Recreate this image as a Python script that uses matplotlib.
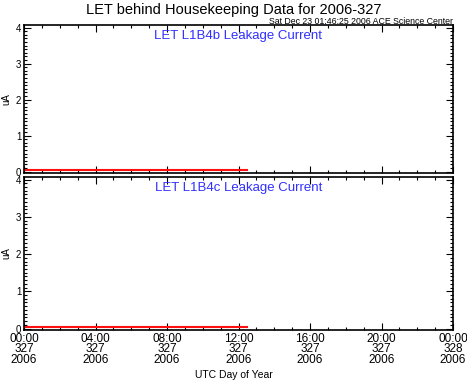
import matplotlib
matplotlib.use("Agg")
import matplotlib.pyplot as plt
from matplotlib.ticker import MultipleLocator

# hours since 00:00 of day 327
hours = [0.0, 2.0, 4.0, 6.0, 8.0, 10.0, 12.0, 12.45]
l1b4b = [0.05, 0.05, 0.05, 0.05, 0.05, 0.05, 0.05, 0.05]
l1b4c = [0.05, 0.05, 0.05, 0.05, 0.05, 0.05, 0.05, 0.05]

tick_hours = [0, 4, 8, 12, 16, 20, 24]
tick_labels = ["00:00\n327\n2006", "04:00\n327\n2006", "08:00\n327\n2006",
               "12:00\n327\n2006", "16:00\n327\n2006", "20:00\n327\n2006",
               "00:00\n328\n2006"]

panels = ["LET L1B4b Leakage Current", "LET L1B4c Leakage Current"]

plt.rcParams['font.family'] = ['Liberation Sans', 'DejaVu Sans']

fig = plt.figure(figsize=(4.67, 3.82), dpi=100)
left, width = 24 / 467, 429 / 467
ax1 = fig.add_axes([left, 1 - 173 / 382, width, 148 / 382])
ax2 = fig.add_axes([left, 1 - 330 / 382, width, 153 / 382])

for ax, vals, name in zip([ax1, ax2], [l1b4b, l1b4c], panels):
    ax.plot(hours, vals, color='#ff1010', lw=1.5)
    ax.set_xlim(0, 24)
    ax.set_ylim(-0.04, 4.07)
    ax.set_yticks([0, 1, 2, 3, 4])
    ax.yaxis.set_minor_locator(MultipleLocator(0.1))
    ax.set_xticks(tick_hours)
    ax.xaxis.set_minor_locator(MultipleLocator(1))
    ax.tick_params(which='both', direction='in', top=True, right=True,
                   color='black', width=0.8, labelsize=7, pad=2)
    ax.tick_params(which='major', length=5)
    ax.tick_params(which='minor', length=2.5)
    for s in ax.spines.values():
        s.set_linewidth(1.2)
    ax.set_ylabel("uA", fontsize=7, labelpad=3)
    ax.text(0.5, 0.925, name, transform=ax.transAxes, ha='center', va='center',
            color='#3030ff', fontsize=9.5)

ax1.set_xticklabels([])
ax2.set_xticklabels(tick_labels, fontsize=8.5, linespacing=0.85)
fig.text(0.5, 1 - 375 / 382, "UTC Day of Year", ha='center', va='center',
         fontsize=7.5)

fig.text(0.5, 1 - 10 / 382, "LET behind Housekeeping Data for 2006-327",
         ha='center', va='center', fontsize=10.5)
fig.text(453 / 467, 1 - 21 / 382, "Sat Dec 23 01:46:25 2006 ACE Science Center",
         ha='right', va='center', fontsize=6.3)

fig.savefig("out.png", dpi=100)
